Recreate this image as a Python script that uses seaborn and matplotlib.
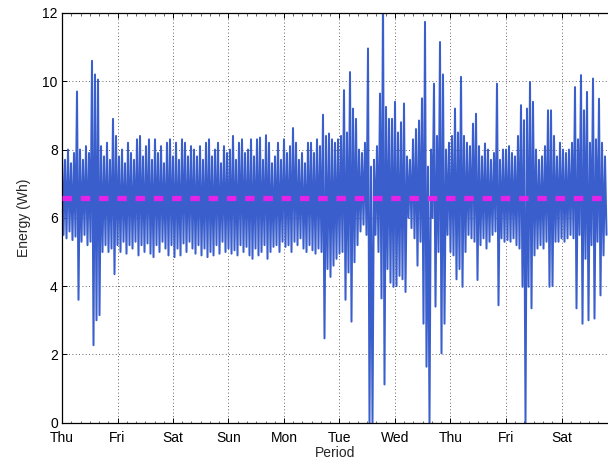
import numpy as np
import pandas as pd
import matplotlib
matplotlib.use("Agg")
import matplotlib.pyplot as plt
import seaborn as sns

# ---------------- data ----------------
day_labels = ["Thu", "Fri", "Sat", "Sun", "Mon", "Tue", "Wed", "Thu", "Fri", "Sat"]
y_ticks = [0, 2, 4, 6, 8, 10, 12]
bins_per_day = 18.5          # one high/low pair per bin
mean_energy = 6.57

energy_high = [
    7.9, 7.7, 8.0, 7.6, 7.9, 9.7, 8.0, 7.7, 8.1, 7.9,
    10.6, 10.2, 10.05, 8.1, 7.8, 8.2, 7.7, 8.9, 8.4, 7.8,
    8.0, 7.6, 8.2, 7.9, 7.7, 8.3, 8.4, 7.8, 8.1, 8.3,
    7.7, 8.3, 7.9, 8.1, 7.6, 8.2, 8.3, 7.8, 8.2, 7.7,
    8.3, 8.2, 7.8, 8.1, 8.0, 7.8,
    8.1, 7.7, 8.2, 8.3, 7.8, 8.0, 8.2, 7.6, 8.1, 7.9,
    8.0, 8.4, 7.7, 8.2, 8.3, 7.9, 8.0, 8.3, 7.8, 8.3,
    8.35, 7.7, 8.42, 8.2, 7.6, 7.8, 8.2, 7.7, 8.3, 7.9,
    8.1, 8.63, 8.2, 7.7, 7.9, 7.6, 8.2, 8.2, 7.9, 8.3,
    8.1, 9.02, 8.4, 8.47, 8.3, 8.2,
    8.3, 8.4, 9.74, 8.5, 10.27, 9.2, 8.9, 8.0, 7.9, 8.2,
    10.96, 7.5, 7.7, 8.1, 9.64, 12.5, 9.25, 8.9, 8.9, 9.4,
    8.5, 8.8, 9.35, 7.8, 7.7, 8.3, 8.6, 8.85, 9.5, 11.74,
    7.5, 8.0, 9.93, 8.4, 11.15, 10.2, 8.0, 8.2, 8.4, 9.2,
    8.5, 10.13, 8.4, 8.2, 8.1, 8.76,
    9.05, 8.1, 7.8, 8.18, 8.0, 7.7, 7.9, 9.93, 7.7, 8.0,
    8.0, 8.1, 7.9, 7.8, 8.4, 9.3, 8.86, 9.2, 9.98, 9.4,
    8.0, 7.7, 7.8, 8.1, 9.15, 9.15, 8.4, 7.8, 8.2, 8.0,
    7.9, 8.0, 8.2, 9.83, 8.3, 10.18, 9.15, 9.69, 8.2, 10.08,
    8.3, 9.49, 8.2, 7.8,
]
energy_low = [
    5.5, 5.4, 5.6, 5.35, 5.45, 3.6, 5.3, 5.5, 5.2, 5.3,
    2.27, 3.0, 3.15, 5.0, 5.2, 5.0, 5.1, 4.35, 5.2, 5.0,
    5.3, 4.95, 5.2, 5.1, 5.3, 4.9, 5.2, 5.0, 5.25, 4.95,
    4.85, 5.2, 5.0, 5.3, 5.1, 4.9, 5.2, 4.85, 5.1, 4.9,
    5.25, 5.0, 5.3, 5.1, 4.95, 5.2,
    4.9, 5.1, 4.85, 5.0, 4.9, 5.2, 4.95, 5.3, 5.0, 5.1,
    4.95, 5.05, 4.9, 5.2, 5.0, 5.15, 4.9, 4.8, 5.1, 4.9,
    5.0, 5.2, 4.8, 5.0, 5.15, 5.2, 5.0, 5.3, 5.15, 5.2,
    5.0, 5.3, 5.2, 5.4, 5.1, 5.0, 5.2, 5.05, 4.95, 5.1,
    5.0, 2.47, 4.5, 4.27, 4.6, 4.8,
    4.95, 5.0, 3.6, 4.4, 2.96, 4.7, 5.2, 5.6, 5.8, 5.5,
    0.0, 0.0, 5.5, 5.0, 3.64, 1.12, 4.5, 4.1, 3.98, 4.0,
    4.3, 4.2, 3.83, 6.0, 5.7, 5.4, 4.6, 5.3, 2.9, 1.64,
    0.0, 6.0, 3.4, 5.0, 2.03, 2.9, 5.5, 5.0, 4.9, 4.2,
    4.5, 3.98, 5.0, 5.5, 5.4, 5.3,
    4.18, 5.2, 5.4, 5.1, 5.3, 5.5, 5.6, 3.44, 5.4, 5.3,
    5.35, 5.3, 5.4, 5.2, 5.1, 3.98, 0.0, 3.98, 3.35, 4.9,
    5.1, 5.2, 5.1, 5.3, 3.98, 4.0, 5.3, 5.3, 5.4, 5.3,
    5.4, 5.5, 5.4, 3.35, 5.5, 2.9, 4.8, 3.0, 5.2, 3.05,
    5.3, 3.73, 4.9, 5.5,
]

# time series: each bin contributes its high then its low sample
n_bins = len(energy_high)
t_day, energy = [], []
for i in range(n_bins):
    t_day += [i / bins_per_day, (i + 0.5) / bins_per_day]
    energy += [energy_high[i], energy_low[i]]
df = pd.DataFrame({"day": t_day, "energy": energy})

# ---------------- figure ----------------
sns.set_style("ticks")
plt.rcParams["font.family"] = ["Liberation Sans", "DejaVu Sans"]
plt.rcParams["font.size"] = 10

blue = "#3a5fcd"
fig = plt.figure(figsize=(6.08, 4.67), dpi=100)
ax = fig.add_axes([62 / 608, 44.3 / 467, 546 / 608, 409.7 / 467])

sns.lineplot(data=df, x="day", y="energy", sort=False, estimator=None,
             color=blue, linewidth=1.45, ax=ax, zorder=2)
ax.axhline(mean_energy, color="#e324e8", linewidth=3.8,
           linestyle=(0, (1.8, 1.66)), zorder=3)

ax.set_xlim(0, 546 / 55.5)
ax.set_ylim(0, 12)
ax.set_xticks(range(len(day_labels)))
ax.set_xticklabels(day_labels)
ax.set_xticks(np.arange(0, 10, 1 / 6), minor=True)
ax.set_yticks(y_ticks)
ax.set_yticklabels([str(v) for v in y_ticks])

ax.grid(True, which="major", color="#333333", linestyle=(0, (1, 3)), linewidth=0.6)
ax.set_axisbelow(True)
ax.tick_params(which="major", direction="in", top=True, right=False,
               length=3.5, width=0.7, labelsize=10, colors="black")
ax.tick_params(axis="x", which="major", pad=6)
ax.tick_params(axis="y", which="major", pad=3)
ax.tick_params(which="minor", direction="in", top=True, length=1.8, width=0.5)
for s in ["left", "bottom", "top"]:
    ax.spines[s].set_linewidth(0.9)
    ax.spines[s].set_color("black")
ax.spines["right"].set_visible(False)

ax.set_xlabel("Period", fontsize=10, labelpad=1)
ax.set_ylabel("Energy (Wh)", fontsize=10, labelpad=8)

fig.savefig("out.png", dpi=100)
